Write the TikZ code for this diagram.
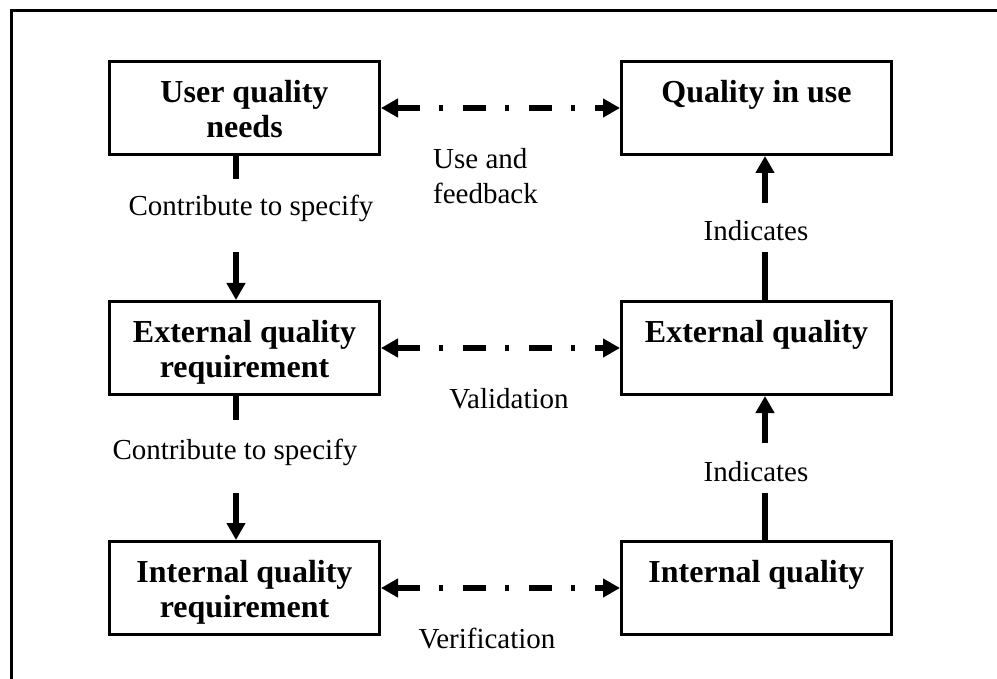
\documentclass[tikz,border=0pt]{standalone}
\usepackage{fontspec}
\setmainfont{Liberation Serif}
\usetikzlibrary{arrows.meta}
\newcommand\bxt[1]{\parbox[c][56pt][t]{262pt}{\centering\rule{0pt}{22pt}#1}}
\begin{document}
\begin{tikzpicture}[x=1pt,y=-1pt,
  box/.style={draw, line width=3pt, minimum width=270pt, minimum height=93pt, inner sep=0pt,
    font=\fontsize{32}{35.5}\selectfont\bfseries},
  lbl/.style={font=\fontsize{29}{35}\selectfont, inner sep=0pt},
  conn/.style={line width=6pt},
  arr/.style={conn, -{Triangle[length=17pt,width=18pt]}},
  dd/.style={line width=6pt, {Triangle[length=17pt,width=18pt]}-{Triangle[length=17pt,width=18pt]},
    dash pattern=on 23pt off 19.5pt on 4pt off 19.5pt},
  frameline/.style={line width=3pt}
]
\useasboundingbox (0,0) rectangle (997,679);
\draw[frameline] (997,11) -- (11,11) -- (11,679);

\node[box] (uqn) at (244.5,108) {\bxt{User quality\\needs}};
\node[box] (qiu) at (756.5,108) {\bxt{Quality in use}};
\node[box] (eqr) at (244.5,348) {\bxt{External quality\\requirement}};
\node[box] (eq)  at (756.5,348) {\bxt{External quality}};
\node[box] (iqr) at (244.5,588) {\bxt{Internal quality\\requirement}};
\node[box] (iq)  at (756.5,588) {\bxt{Internal quality}};

\draw[dd] (uqn.east) -- (qiu.west);
\draw[dd] (eqr.east) -- (eq.west);
\draw[dd] (iqr.east) -- (iq.west);

\node[lbl, anchor=north west, align=left] (uf) at (433,148.2) {Use and\\feedback};
\node[lbl, anchor=base] (val) at (509,408) {Validation};
\node[lbl, anchor=base] (ver) at (487,648) {Verification};

\node[lbl, anchor=base] (cs1) at (251,216) {Contribute to specify};
\node[lbl, anchor=base] (cs2) at (235,459) {Contribute to specify};
\node[lbl, anchor=base] (ind1) at (756,241) {Indicates};
\node[lbl, anchor=base] (ind2) at (756,481) {Indicates};

\coordinate (l1a) at (236,179);
\coordinate (l1b) at (236,252);
\coordinate (l2a) at (236,420);
\coordinate (l2b) at (236,493);
\coordinate (r1a) at (765,252);
\coordinate (r1b) at (765,203);
\coordinate (r2a) at (765,493);
\coordinate (r2b) at (765,443);

\draw[conn] (l1a |- uqn.south) -- (l1a);
\draw[arr] (l1b) -- (l1b |- eqr.north);
\draw[conn] (l2a |- eqr.south) -- (l2a);
\draw[arr] (l2b) -- (l2b |- iqr.north);
\draw[conn] (r1a |- eq.north) -- (r1a);
\draw[arr] (r1b) -- (r1b |- qiu.south);
\draw[conn] (r2a |- iq.north) -- (r2a);
\draw[arr] (r2b) -- (r2b |- eq.south);
\end{tikzpicture}
\end{document}
